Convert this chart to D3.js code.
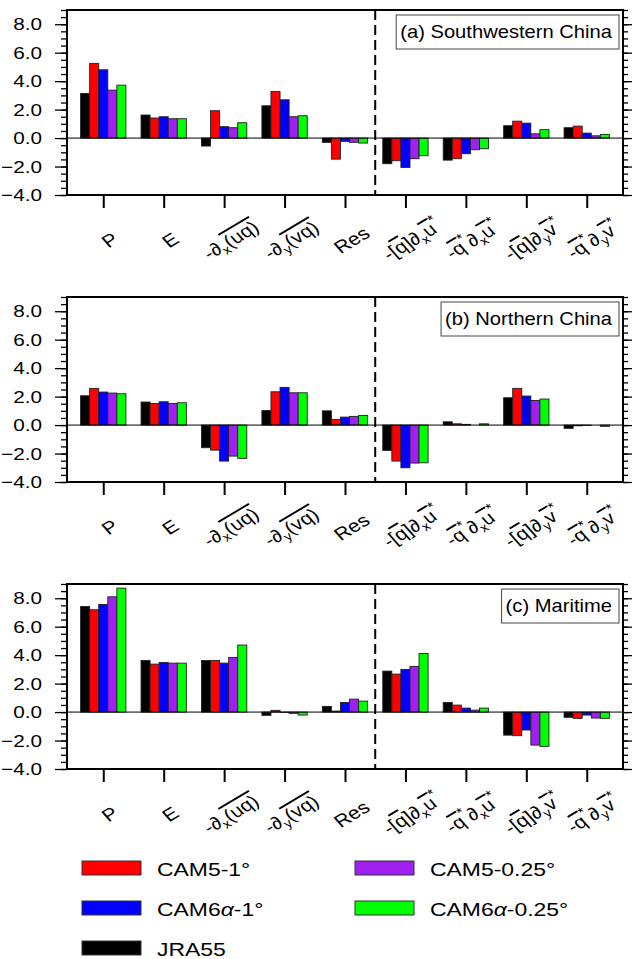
<!DOCTYPE html>
<html>
<head>
<meta charset="utf-8">
<script src="https://cdn.jsdelivr.net/npm/d3@7"></script>
<style>
  body { margin: 0; background: #fff; }
  svg { display: block; font-family: "Liberation Sans", Arial, Helvetica, sans-serif; }
</style>
</head>
<body>
<svg id="chart" width="632" height="959"></svg>
<script>
// series order inside each group
const seriesNames  = ['JRA55', 'CAM5-1°', 'CAM6α-1°', 'CAM5-0.25°', 'CAM6α-0.25°'];
const seriesColors = ['#000000', '#ff0000', '#0000ff', '#a020f0', '#00ff00'];

const panelTitles = ['(a) Southwestern China', '(b) Northern China', '(c) Maritime'];

// x labels, as [text, style] pieces
const xLabels = [
  [['P']],
  [['E']],
  [['-∂'], ['x', 'sub'], ['(uq)', 'over']],
  [['-∂'], ['y', 'sub'], ['(vq)', 'over']],
  [['Res']],
  [['-['], ['q', 'over'], [']∂'], ['x', 'sub'], ['u', 'over'], ['*', 'sup']],
  [['-'], ['q', 'over'], ['*', 'sup'], ['∂'], ['x', 'sub'], ['u', 'over'], ['*', 'sup']],
  [['-['], ['q', 'over'], [']∂'], ['y', 'sub'], ['v', 'over'], ['*', 'sup']],
  [['-'], ['q', 'over'], ['*', 'sup'], ['∂'], ['y', 'sub'], ['v', 'over'], ['*', 'sup']]
];

// values per term: [JRA55, CAM5-1, CAM6a-1, CAM5-0.25, CAM6a-0.25]
const swChina = [
  [3.14, 5.25, 4.80, 3.37, 3.72],
  [1.62, 1.41, 1.50, 1.36, 1.36],
  [-0.56, 1.92, 0.80, 0.73, 1.08],
  [2.27, 3.28, 2.69, 1.50, 1.57],
  [-0.30, -1.48, -0.23, -0.30, -0.35],
  [-1.80, -1.59, -2.06, -1.45, -1.24],
  [-1.55, -1.45, -1.10, -0.82, -0.75],
  [0.87, 1.19, 1.05, 0.30, 0.59],
  [0.73, 0.84, 0.35, 0.16, 0.26]
];

const nChina = [
  [2.06, 2.58, 2.32, 2.25, 2.20],
  [1.62, 1.52, 1.64, 1.52, 1.57],
  [-1.59, -1.76, -2.53, -2.18, -2.34],
  [1.03, 2.34, 2.65, 2.27, 2.27],
  [1.00, 0.40, 0.56, 0.61, 0.68],
  [-1.78, -2.53, -3.00, -2.67, -2.65],
  [0.23, 0.09, 0.05, 0.00, 0.09],
  [1.92, 2.58, 2.04, 1.73, 1.83],
  [-0.23, -0.05, -0.02, 0.00, -0.09]
];

const maritime = [
  [7.42, 7.19, 7.56, 8.10, 8.71],
  [3.63, 3.37, 3.49, 3.44, 3.44],
  [3.63, 3.63, 3.44, 3.84, 4.71],
  [-0.23, 0.12, -0.02, -0.09, -0.21],
  [0.40, 0.07, 0.68, 0.91, 0.77],
  [2.88, 2.67, 3.00, 3.21, 4.12],
  [0.68, 0.49, 0.28, 0.14, 0.28],
  [-1.62, -1.66, -1.26, -2.32, -2.41],
  [-0.37, -0.44, -0.21, -0.42, -0.44]
];

const panelData = [swChina, nChina, maritime];

const majorTicks = [-4, -2, 0, 2, 4, 6, 8];
const minorTicks = d3.range(-4, 9.01, 0.5);

// legend layout: [series index, column, row]
const legendOrder = [[1, 0, 0], [2, 0, 1], [0, 0, 2], [3, 1, 0], [4, 1, 1]];

const STRETCH = 1.22;   // the figure text is wider than plain Helvetica
const left    = 67;
const right   = 623;
const plotH   = 185;
const panelTops = [10, 297, 584];

const svg = d3.select('#chart');

const x = d3.scaleLinear().domain([-0.6, 8.6]).range([left, right]);
const barW = x(0.15) - x(0);

function stretchedText(g, px, py, size, str, sx = STRETCH) {
  return g.append('text')
    .attr('transform', `translate(${px},${py}) scale(${sx},1)`)
    .attr('font-size', size)
    .text(str);
}

function drawPanel(p) {
  const top  = panelTops[p];
  const data = panelData[p];
  const y = d3.scaleLinear().domain([-4, 9]).range([top + plotH, top]);

  const g = svg.append('g').attr('class', 'panel');

  // bars
  data.forEach((vals, i) => {
    g.selectAll(null)
      .data(vals)
      .enter()
      .append('rect')
      .attr('x', (d, k) => x(i) + (k - 2.5) * barW)
      .attr('y', (d) => y(Math.max(d, 0)))
      .attr('width', barW)
      .attr('height', (d) => Math.abs(y(d) - y(0)))
      .attr('fill', (d, k) => seriesColors[k])
      .attr('stroke', '#222')
      .attr('stroke-width', 0.9);
  });

  // zero line
  g.append('line')
    .attr('x1', left).attr('x2', right)
    .attr('y1', y(0)).attr('y2', y(0))
    .attr('stroke', '#000').attr('stroke-width', 1);

  // dashed separator between budget terms and decomposition
  g.append('line')
    .attr('x1', x(4.5)).attr('x2', x(4.5))
    .attr('y1', top).attr('y2', top + plotH)
    .attr('stroke', '#000').attr('stroke-width', 2)
    .attr('stroke-dasharray', '10,5');

  // axes
  const axes = [
    [d3.axisLeft(y).tickValues(minorTicks).tickSize(6), left],
    [d3.axisLeft(y).tickValues(majorTicks).tickSize(12), left],
    [d3.axisRight(y).tickValues(minorTicks).tickSize(5), right],
    [d3.axisRight(y).tickValues(majorTicks).tickSize(9), right]
  ];
  axes.forEach(([ax, pos]) => {
    const a = g.append('g')
      .attr('transform', `translate(${pos},0)`)
      .call(ax.tickFormat(''));
    a.select('.domain').remove();
    a.selectAll('line').attr('stroke', '#000').attr('stroke-width', 1.3);
  });

  const xa = g.append('g')
    .attr('transform', `translate(0,${top + plotH})`)
    .call(d3.axisBottom(x).tickValues(d3.range(9)).tickSize(13).tickFormat(''));
  xa.select('.domain').remove();
  xa.selectAll('line').attr('stroke', '#000').attr('stroke-width', 2);

  // frame
  g.append('rect')
    .attr('x', left).attr('y', top)
    .attr('width', right - left).attr('height', plotH)
    .attr('fill', 'none').attr('stroke', '#000').attr('stroke-width', 2);

  // y tick labels
  majorTicks.forEach((v) => {
    stretchedText(g, 42, y(v) + 6.2, 17, d3.format('.1f')(v))
      .attr('text-anchor', 'end');
  });

  // x labels, rotated
  xLabels.forEach((parts, i) => {
    const t = g.append('text')
      .attr('transform', `translate(${x(i) + 11},${top + plotH + 50}) scale(${STRETCH},1) rotate(-36)`)
      .attr('font-size', 17.5)
      .attr('text-anchor', 'middle');
    let shift = 0;
    parts.forEach(([str, style]) => {
      const ts = t.append('tspan').text(str);
      let target = 0;
      if (style === 'sub') {
        target = 4;
        ts.attr('font-size', 12);
      } else if (style === 'sup') {
        target = -9;
        ts.attr('font-size', 13);
      } else if (style === 'over') {
        ts.style('text-decoration', 'overline');
      }
      ts.attr('dy', target - shift);
      shift = target;
    });
  });

  // panel title box
  const titleStretch = 1.12;
  const box = g.append('rect');
  const title = stretchedText(g, 0, 0, 18, panelTitles[p], titleStretch);
  const tw = title.node().getComputedTextLength() * titleStretch;
  const boxR = right - 4;
  const boxL = boxR - tw - 11;
  title.attr('transform', `translate(${boxL + 4},${top + 28}) scale(${titleStretch},1)`);
  box
    .attr('x', boxL).attr('y', top + 5)
    .attr('width', boxR - boxL).attr('height', 34)
    .attr('fill', '#fff').attr('stroke', '#444').attr('stroke-width', 1);
}

panelTops.forEach((t, p) => drawPanel(p));

// legend
const legend = svg.append('g').attr('class', 'legend');
legendOrder.forEach(([s, col, row]) => {
  const lx = col === 0 ? 82 : 355;
  const ly = 861 + row * 40;
  legend.append('rect')
    .attr('x', lx).attr('y', ly)
    .attr('width', 59).attr('height', 14)
    .attr('fill', seriesColors[s])
    .attr('stroke', '#333').attr('stroke-width', 1);
  const name = seriesNames[s];
  const txt = legend.append('text')
    .attr('transform', `translate(${lx + 75},${ly + 15}) scale(${STRETCH},1)`)
    .attr('font-size', 18.8);
  if (name.includes('α')) {
    const [a, b] = name.split('α');
    txt.append('tspan').text(a);
    txt.append('tspan').attr('font-style', 'italic').text('α');
    txt.append('tspan').text(b);
  } else {
    txt.text(name);
  }
});
</script>
</body>
</html>
